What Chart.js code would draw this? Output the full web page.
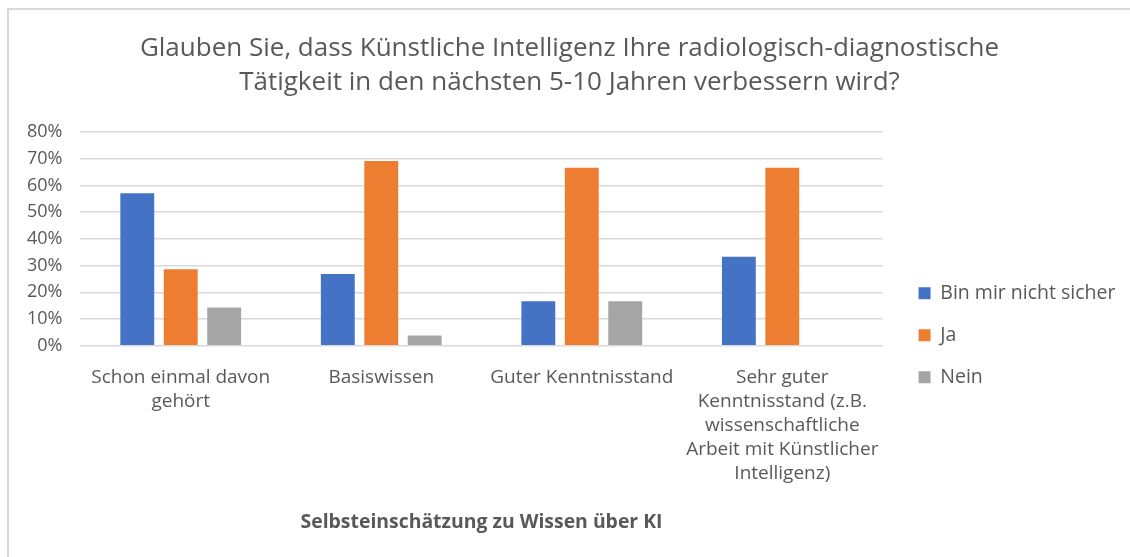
<!DOCTYPE html>
<html>
<head>
<meta charset="utf-8">
<script src="https://cdn.jsdelivr.net/npm/chart.js@4.4.1/dist/chart.umd.min.js"></script>
<style>
    body { margin: 0; background: #fff; overflow: hidden; }
    #frame {
        position: absolute; left: 7px; top: 8px;
        width: 1130px; height: 560px;
        border-left: 2px solid #d9d9d9; border-top: 2px solid #d9d9d9;
    }
    #chart-box { position: absolute; left: 0; top: 0; width: 1121px; height: 547px; }
</style>
</head>
<body>
<div id="frame">
    <div id="chart-box"><canvas id="chart"></canvas></div>
</div>
<script>
const categories = [
    ['Schon einmal davon', 'gehört'],
    'Basiswissen',
    'Guter Kenntnisstand',
    ['Sehr guter', 'Kenntnisstand (z.B.', 'wissenschaftliche', 'Arbeit mit Künstlicher', 'Intelligenz)']
];
const seriesNames = ['Bin mir nicht sicher', 'Ja', 'Nein'];
const nichtSicher = [57.1, 26.9, 16.7, 33.3];
const ja = [28.6, 69.2, 66.7, 66.7];
const nein = [14.3, 3.8, 16.7, 0];
const colors = ['#4472c4', '#ed7d31', '#a5a5a5'];
const yTicks = [0, 10, 20, 30, 40, 50, 60, 70, 80];

const FONT = '"Open Sans", Lato, sans-serif';
const TEXT = '#595959';

// nudges the legend away from the plot and re-centres the title
const nudge = {
    id: 'nudge',
    afterLayout(chart) {
        const lg = chart.legend;
        if (lg) { lg.left += 13.5; lg.right += 13.5; }
        const tb = chart.titleBlock;
        if (tb) { tb.left += 9; tb.right += 9; }
    }
};

document.addEventListener('DOMContentLoaded', () => {
    const ctx = document.getElementById('chart');
    const values = [nichtSicher, ja, nein];

    new Chart(ctx, {
        type: 'bar',
        data: {
            labels: categories,
            datasets: values.map((v, i) => ({
                label: seriesNames[i],
                data: v,
                backgroundColor: colors[i],
                borderWidth: 0,
                barPercentage: 0.78,
                categoryPercentage: 0.65
            }))
        },
        options: {
            responsive: true,
            maintainAspectRatio: false,
            animation: false,
            layout: { padding: { left: 0, right: 18, top: 14, bottom: 19 } },
            plugins: {
                title: {
                    display: true,
                    text: ['Glauben Sie, dass Künstliche Intelligenz Ihre radiologisch-diagnostische',
                           'Tätigkeit in den nächsten 5-10 Jahren verbessern wird?'],
                    color: TEXT,
                    font: { family: FONT, size: 26, weight: 'normal', lineHeight: 1.31 },
                    padding: { top: 8, bottom: 32 }
                },
                legend: {
                    position: 'right',
                    align: 'center',
                    // empty title only pushes the legend items down a bit
                    title: {
                        display: true,
                        text: '',
                        font: { size: 12 },
                        padding: 47
                    },
                    labels: {
                        color: TEXT,
                        font: { family: FONT, size: 19.5 },
                        boxWidth: 12,
                        boxHeight: 12,
                        padding: 22.5
                    }
                },
                tooltip: { enabled: false }
            },
            scales: {
                x: {
                    grid: { display: false },
                    border: { display: false },
                    ticks: {
                        color: TEXT,
                        font: { family: FONT, size: 19, lineHeight: 1.263 },
                        maxRotation: 0,
                        padding: 12
                    },
                    title: {
                        display: true,
                        text: 'Selbsteinschätzung zu Wissen über KI',
                        color: TEXT,
                        font: { family: FONT, size: 19.4, weight: 'bold' },
                        padding: { top: 13 }
                    }
                },
                y: {
                    min: 0,
                    max: 80,
                    afterBuildTicks: axis => { axis.ticks = yTicks.map(v => ({ value: v })); },
                    grid: { color: '#d9d9d9', lineWidth: 1.5, drawTicks: false },
                    border: { display: false },
                    ticks: {
                        color: TEXT,
                        font: { family: FONT, size: 18 },
                        padding: 18,
                        callback: v => v + '%'
                    }
                }
            }
        },
        plugins: [nudge]
    });
});
</script>
</body>
</html>
